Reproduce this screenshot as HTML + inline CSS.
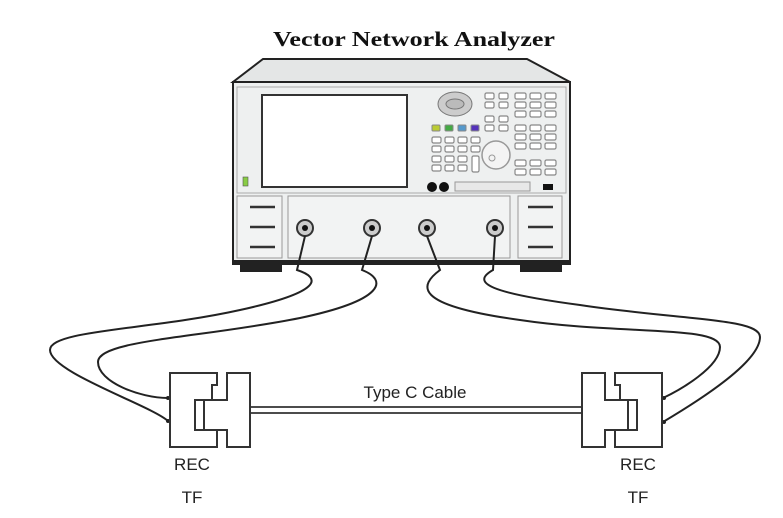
<!DOCTYPE html>
<html><head><meta charset="utf-8"><style>
html,body{margin:0;padding:0;background:#fff;}
svg{display:block}
</style></head><body>
<svg width="783" height="518" viewBox="0 0 783 518" xmlns="http://www.w3.org/2000/svg">
<rect width="783" height="518" fill="#fff"/>
<text x="414" y="46" text-anchor="middle" font-family="Liberation Serif, serif" font-weight="bold" font-size="21" textLength="282" lengthAdjust="spacingAndGlyphs" fill="#111">Vector Network Analyzer</text>

<!-- analyzer -->
<polygon points="263,59 527,59 570,82 233,82" fill="#e4e6e6" stroke="#222" stroke-width="2"/>
<rect x="240" y="262" width="42" height="10" fill="#222"/>
<rect x="520" y="262" width="42" height="10" fill="#222"/>
<rect x="233" y="82" width="337" height="182" fill="#eef0f0" stroke="#222" stroke-width="2"/>
<line x1="233" y1="262" x2="570" y2="262" stroke="#222" stroke-width="4"/>
<rect x="237" y="87" width="329" height="106" fill="none" stroke="#aaa" stroke-width="1"/>
<rect x="262" y="95" width="145" height="92" fill="#fff" stroke="#333" stroke-width="2"/>
<rect x="243" y="177" width="5" height="9" fill="#8c4" stroke="#555" stroke-width="0.6"/>
<rect x="237" y="196" width="45" height="62" fill="#f2f3f3" stroke="#999"/>
<rect x="288" y="196" width="222" height="62" fill="#f2f3f3" stroke="#999"/>
<rect x="518" y="196" width="44" height="62" fill="#f2f3f3" stroke="#999"/>
<g stroke="#333" stroke-width="2.5">
<line x1="250" y1="207" x2="275" y2="207"/><line x1="250" y1="227" x2="275" y2="227"/><line x1="250" y1="247" x2="275" y2="247"/>
<line x1="528" y1="207" x2="553" y2="207"/><line x1="528" y1="227" x2="553" y2="227"/><line x1="528" y1="247" x2="553" y2="247"/>
</g>
<g fill="#ccc" stroke="#333" stroke-width="2">
<circle cx="305" cy="228" r="8"/><circle cx="372" cy="228" r="8"/><circle cx="427" cy="228" r="8"/><circle cx="495" cy="228" r="8"/>
</g>
<g fill="#111"><circle cx="305" cy="228" r="3"/><circle cx="372" cy="228" r="3"/><circle cx="427" cy="228" r="3"/><circle cx="495" cy="228" r="3"/></g>
<!-- keypad -->
<ellipse cx="455" cy="104" rx="17" ry="12" fill="#ccc" stroke="#777"/>
<ellipse cx="455" cy="104" rx="9" ry="5" fill="#bbb" stroke="#777"/>
<g stroke="#888" stroke-width="1">
<rect x="432" y="125" width="8" height="6" fill="#bc3" rx="1"/>
<rect x="445" y="125" width="8" height="6" fill="#4a4" rx="1"/>
<rect x="458" y="125" width="8" height="6" fill="#59c" rx="1"/>
<rect x="471" y="125" width="8" height="6" fill="#53b" rx="1"/>
</g>
<g fill="#fff" stroke="#888" stroke-width="1.2">
<rect x="432" y="137" width="9" height="6" rx="1.5"/><rect x="445" y="137" width="9" height="6" rx="1.5"/><rect x="458" y="137" width="9" height="6" rx="1.5"/><rect x="471" y="137" width="9" height="6" rx="1.5"/>
<rect x="432" y="146" width="9" height="6" rx="1.5"/><rect x="445" y="146" width="9" height="6" rx="1.5"/><rect x="458" y="146" width="9" height="6" rx="1.5"/><rect x="471" y="146" width="9" height="6" rx="1.5"/>
<rect x="432" y="156" width="9" height="6" rx="1.5"/><rect x="445" y="156" width="9" height="6" rx="1.5"/><rect x="458" y="156" width="9" height="6" rx="1.5"/>
<rect x="432" y="165" width="9" height="6" rx="1.5"/><rect x="445" y="165" width="9" height="6" rx="1.5"/><rect x="458" y="165" width="9" height="6" rx="1.5"/>
<rect x="472" y="156" width="7" height="16" rx="1.5"/>
<rect x="485" y="93" width="9" height="6" rx="1.5"/><rect x="499" y="93" width="9" height="6" rx="1.5"/>
<rect x="485" y="102" width="9" height="6" rx="1.5"/><rect x="499" y="102" width="9" height="6" rx="1.5"/>
<rect x="485" y="116" width="9" height="6" rx="1.5"/><rect x="499" y="116" width="9" height="6" rx="1.5"/>
<rect x="485" y="125" width="9" height="6" rx="1.5"/><rect x="499" y="125" width="9" height="6" rx="1.5"/>
<rect x="515" y="93" width="11" height="6" rx="1.5"/><rect x="530" y="93" width="11" height="6" rx="1.5"/><rect x="545" y="93" width="11" height="6" rx="1.5"/>
<rect x="515" y="102" width="11" height="6" rx="1.5"/><rect x="530" y="102" width="11" height="6" rx="1.5"/><rect x="545" y="102" width="11" height="6" rx="1.5"/>
<rect x="515" y="111" width="11" height="6" rx="1.5"/><rect x="530" y="111" width="11" height="6" rx="1.5"/><rect x="545" y="111" width="11" height="6" rx="1.5"/>
<rect x="515" y="125" width="11" height="6" rx="1.5"/><rect x="530" y="125" width="11" height="6" rx="1.5"/><rect x="545" y="125" width="11" height="6" rx="1.5"/>
<rect x="515" y="134" width="11" height="6" rx="1.5"/><rect x="530" y="134" width="11" height="6" rx="1.5"/><rect x="545" y="134" width="11" height="6" rx="1.5"/>
<rect x="515" y="143" width="11" height="6" rx="1.5"/><rect x="530" y="143" width="11" height="6" rx="1.5"/><rect x="545" y="143" width="11" height="6" rx="1.5"/>
<rect x="515" y="160" width="11" height="6" rx="1.5"/><rect x="530" y="160" width="11" height="6" rx="1.5"/><rect x="545" y="160" width="11" height="6" rx="1.5"/>
<rect x="515" y="169" width="11" height="6" rx="1.5"/><rect x="530" y="169" width="11" height="6" rx="1.5"/><rect x="545" y="169" width="11" height="6" rx="1.5"/>
</g>
<circle cx="496" cy="155" r="14" fill="#f4f4f4" stroke="#999" stroke-width="1.5"/>
<circle cx="492" cy="158" r="3" fill="none" stroke="#999"/>
<circle cx="432" cy="187" r="5" fill="#111"/><circle cx="444" cy="187" r="5" fill="#111"/>
<rect x="455" y="182" width="75" height="9" fill="#e8e8e8" stroke="#999"/>
<rect x="543" y="184" width="10" height="6" fill="#111"/>

<!-- cables -->
<g fill="none" stroke="#222" stroke-width="2">
<path d="M305,236 L297,270 C322,278 322,292 240,310 C150,330 50,330 50,350 C50,372 150,405 168,421"/>
<path d="M372,236 L362,270 C388,280 385,300 300,318 C200,338 98,340 98,362 C98,382 140,398 168,398"/>
<path d="M427,236 L440,270 C420,285 410,305 520,320 C620,335 720,325 720,347 C720,367 680,390 663,398"/>
<path d="M495,236 L493,270 C470,283 490,293 580,305 C680,320 760,318 760,337 C760,362 700,400 663,422"/>
</g>
<g fill="#222"><circle cx="168" cy="398" r="2"/><circle cx="168" cy="421" r="2"/><circle cx="664" cy="398" r="2"/><circle cx="664" cy="422" r="2"/></g>

<!-- connectors -->
<g fill="#fff" stroke="#333" stroke-width="2">
<polygon points="170,373 217,373 217,385 212,385 212,400 195,400 195,430 217,430 217,447 170,447"/>
<polygon points="227,373 250,373 250,447 227,447 227,430 204,430 204,400 227,400"/>
<polygon points="662,373 615,373 615,385 620,385 620,400 637,400 637,430 615,430 615,447 662,447"/>
<polygon points="605,373 582,373 582,447 605,447 605,430 628,430 628,400 605,400"/>
</g>
<g stroke="#333" stroke-width="1.8">
<line x1="250" y1="407" x2="582" y2="407"/><line x1="250" y1="413" x2="582" y2="413"/>
</g>
<text x="415" y="398" text-anchor="middle" font-family="Liberation Sans, sans-serif" font-size="17" fill="#222">Type C Cable</text>
<g font-family="Liberation Sans, sans-serif" font-size="17" fill="#222" text-anchor="middle">
<text x="192" y="470">REC</text><text x="192" y="503">TF</text>
<text x="638" y="470">REC</text><text x="638" y="503">TF</text>
</g>
</svg>
</body></html>
